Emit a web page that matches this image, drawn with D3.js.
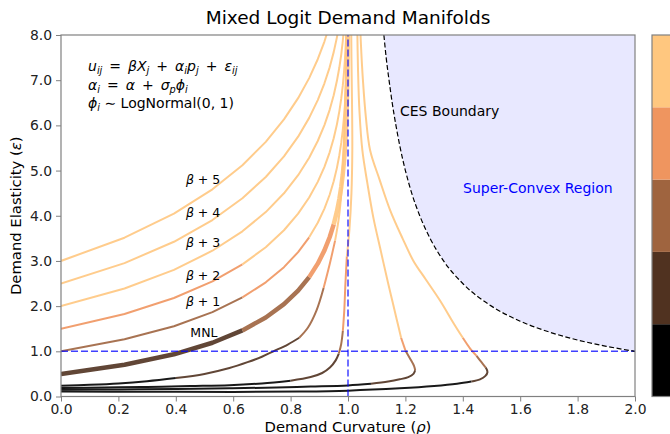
<!DOCTYPE html>
<html>
<head>
<meta charset="utf-8">
<script src="https://cdn.jsdelivr.net/npm/d3@7"></script>
<style>
body { margin: 0; background: #fff; }
svg { display: block; font-family: "DejaVu Sans", sans-serif; }
</style>
</head>
<body>
<svg id="chart" width="670" height="434"></svg>
<script>
// ---- data ----
// MNL curves: curvature at markups of 0.25 over the intercept (shared by every MNL curve)
var markup = [0, 0.25, 0.5, 0.75, 1, 1.25, 1.5, 1.75, 2, 2.25, 2.5, 2.75, 3, 3.25, 3.5,
	3.75, 4, 4.25, 4.5, 4.75, 5, 5.25, 5.5, 5.75, 6, 6.25, 6.5, 6.75, 7, 7.25];
var mnlRho = [0, 0.2212, 0.3935, 0.5276, 0.6321, 0.7135, 0.7769, 0.8262, 0.8647, 0.8946, 0.9179,
	0.9361, 0.9502, 0.9612, 0.9698, 0.9765, 0.9817, 0.9857, 0.9889, 0.9913, 0.9933, 0.9948,
	0.9959, 0.9968, 0.9975, 0.9981, 0.9985, 0.9988, 0.9991, 0.9993];
var epsMNL = [0.5, 0.703, 0.934, 1.189, 1.462, 1.749, 2.044, 2.343, 2.642, 2.94, 3.234, 3.525,
	3.81, 4.091, 4.368, 4.641, 4.91, 5.176, 5.44, 5.701, 5.96, 6.218, 6.473, 6.728, 6.983,
	7.236, 7.489, 7.741, 7.993, 8.244];
var epsB1 = [1.0, 1.265, 1.556, 1.868, 2.193, 2.526, 2.862, 3.195, 3.523, 3.845, 4.158, 4.465,
	4.763, 5.054, 5.339, 5.618, 5.892, 6.162, 6.429, 6.692, 6.953, 7.212, 7.469, 7.725, 7.98, 8.234];
var epsB2 = [1.5, 1.827, 2.179, 2.547, 2.924, 3.304, 3.679, 4.047, 4.404, 4.75, 5.083, 5.404,
	5.716, 6.017, 6.31, 6.595, 6.874, 7.148, 7.418, 7.683, 7.946, 8.207];
var epsB3 = [2.0, 2.389, 2.801, 3.226, 3.656, 4.081, 4.497, 4.898, 5.285, 5.654, 6.007, 6.344,
	6.668, 6.98, 7.28, 7.572, 7.856, 8.134];
var epsB4 = [2.5, 2.952, 3.424, 3.905, 4.387, 4.858, 5.314, 5.75, 6.166, 6.559, 6.931, 7.284,
	7.621, 7.942, 8.251];
var epsB5 = [3.0, 3.514, 4.046, 4.585, 5.118, 5.635, 6.132, 6.602, 7.046, 7.464, 7.855, 8.224];
var mnlIntercepts = [1, 2, 3, 4, 5, 6];
var mnlLabels = ["MNL", "\u03b2 + 1", "\u03b2 + 2", "\u03b2 + 3", "\u03b2 + 4", "\u03b2 + 5"];

// mixed logit curves (rho, eps, price)
var c1Rho = [0, 0.1, 0.2, 0.3, 0.4, 0.5, 0.587, 0.65, 0.7, 0.74, 0.79, 0.83, 0.86, 0.89, 0.915,
	0.937, 0.955, 0.968, 0.978, 0.985, 0.99, 0.994, 0.997];
var c1Eps = [0.24, 0.26, 0.29, 0.34, 0.41, 0.5, 0.63, 0.76, 0.88, 1.0, 1.15, 1.3, 1.52, 1.9, 2.4,
	2.95, 3.45, 3.95, 4.6, 5.5, 6.5, 7.5, 8.4];
var c1Price = [0.3, 0.45, 0.6, 0.8, 1.0, 1.15, 1.3, 1.45, 1.6, 1.7, 1.85, 2.0, 2.25, 2.6, 3.0,
	3.4, 4.0, 4.5, 5.1, 5.9, 6.8, 7.7, 8.6];

var c2Rho = [0, 0.15, 0.3, 0.45, 0.587, 0.7, 0.8, 0.87, 0.91, 0.937, 0.957, 0.968, 0.976, 0.982,
	0.987, 0.991, 0.996, 1.005, 1.012, 1.015, 1.014, 1.012, 1.011];
var c2Eps = [0.19, 0.2, 0.21, 0.23, 0.25, 0.29, 0.35, 0.43, 0.52, 0.64, 0.8, 0.95, 1.15, 1.45,
	1.9, 2.5, 3.1, 3.7, 4.5, 5.45, 6.5, 7.5, 8.4];
var c2Price = [0.2, 0.35, 0.5, 0.65, 0.8, 0.9, 1.0, 1.25, 1.45, 1.65, 1.85, 2.0, 2.4, 3.0, 3.4,
	3.9, 4.3, 4.9, 5.6, 6.4, 7.3, 8.2, 9.0];

var l1Rho = [0, 0.2, 0.4, 0.587, 0.75, 0.87, 1.0, 1.08, 1.14, 1.18, 1.21, 1.228, 1.234, 1.23,
	1.218, 1.2, 1.185, 1.17, 1.155, 1.14, 1.115, 1.088, 1.068, 1.05, 1.04, 1.035, 1.032];
var l1Eps = [0.15, 0.155, 0.165, 0.18, 0.2, 0.22, 0.245, 0.28, 0.33, 0.38, 0.43, 0.5, 0.58, 0.68,
	0.82, 1.02, 1.3, 1.7, 2.1, 2.5, 3.2, 3.97, 4.7, 5.45, 6.3, 7.2, 8.3];
var l1Price = [0.15, 0.3, 0.45, 0.6, 0.7, 0.78, 0.85, 1.0, 1.2, 1.4, 1.6, 1.8, 2.0, 2.4, 2.8,
	3.4, 4.0, 4.6, 5.1, 5.6, 6.3, 7.0, 7.7, 8.4, 9.1, 9.8, 10.6];

var l2Rho = [0, 0.3, 0.6, 0.83, 1.0, 1.18, 1.3, 1.38, 1.43, 1.46, 1.478, 1.486, 1.48, 1.465,
	1.448, 1.427, 1.4, 1.37, 1.32, 1.27, 1.228, 1.19, 1.147, 1.11, 1.077, 1.062, 1.052, 1.045, 1.042];
var l2Eps = [0.11, 0.105, 0.1, 0.11, 0.13, 0.18, 0.23, 0.28, 0.33, 0.38, 0.45, 0.54, 0.64, 0.76,
	0.9, 1.05, 1.3, 1.6, 2.13, 2.6, 3.0, 3.5, 4.12, 4.8, 5.45, 6.2, 7.0, 7.8, 8.3];
var l2Price = [0.1, 0.25, 0.4, 0.55, 0.65, 0.75, 0.82, 0.9, 1.05, 1.3, 1.6, 1.9, 2.2, 2.7, 3.1,
	3.6, 4.1, 4.6, 5.2, 5.8, 6.3, 6.9, 7.6, 8.3, 9.0, 9.7, 10.4, 11.1, 11.5];

// CES boundary
var cesRho = [1.125, 1.133, 1.143, 1.154, 1.167, 1.182, 1.2, 1.222, 1.25, 1.286, 1.333, 1.4,
	1.5, 1.6, 1.7, 1.8, 1.9, 2.0];
var cesEps = [8, 7.5, 7, 6.5, 6, 5.5, 5, 4.5, 4, 3.5, 3, 2.5, 2, 1.667, 1.429, 1.25, 1.111, 1.0];

// price bins of the colour bar
var priceBreaks = [1, 2, 3, 4];
var priceColors = ["#000000", "#503220", "#9f643f", "#ef955f", "#ffc77f"];

var xTicks = [0, 0.2, 0.4, 0.6, 0.8, 1.0, 1.2, 1.4, 1.6, 1.8, 2.0];
var yTicks = [0, 1, 2, 3, 4, 5, 6, 7, 8];

// ---- layout ----
var svg = d3.select("#chart");
var pLeft = 61, pRight = 635, pTop = 35, pBottom = 396.5;

var x = d3.scaleLinear().domain([0, 2]).range([pLeft, pRight]);
var y = d3.scaleLinear().domain([0, 8]).range([pBottom, pTop]);
var priceColor = d3.scaleThreshold().domain(priceBreaks).range(priceColors);

svg.append("defs").append("clipPath")
	.attr("id", "clip")
	.append("rect")
	.attr("x", pLeft).attr("y", pTop)
	.attr("width", pRight - pLeft).attr("height", pBottom - pTop);

var plot = svg.append("g").attr("clip-path", "url(#clip)");

//super-convex region
var cesPts = cesRho.map(function(r, i) { return [r, cesEps[i]]; });
var regionPts = cesPts.concat([[2, 8], [1.125, 8]]);
plot.append("path")
	.attr("d", d3.line().x(function(d) { return x(d[0]); }).y(function(d) { return y(d[1]); })
		.curve(d3.curveLinear)(regionPts))
	.attr("fill", "rgba(0,0,255,0.09)");

//curves are split into runs of one colour
function drawCurve(pts, width, smooth) {
	var runs = [];
	for (var i = 0; i < pts.length - 1; i++) {
		var c = priceColor(pts[i].p);
		if (!runs.length || runs[runs.length - 1].color !== c) {
			runs.push({color: c, pts: [pts[i]]});
		}
		runs[runs.length - 1].pts.push(pts[i + 1]);
	}
	var line = d3.line()
		.x(function(d) { return x(d.r); })
		.y(function(d) { return y(d.e); })
		.curve(smooth ? d3.curveCatmullRom : d3.curveLinear);
	runs.forEach(function(run) {
		plot.append("path")
			.attr("d", line(run.pts))
			.attr("fill", "none")
			.attr("stroke", run.color)
			.attr("stroke-width", width)
			.attr("stroke-linejoin", "round")
			.attr("stroke-opacity", 0.9);
	});
}

var mixed = [
	[c1Rho, c1Eps, c1Price],
	[c2Rho, c2Eps, c2Price],
	[l1Rho, l1Eps, l1Price],
	[l2Rho, l2Eps, l2Price]
];
mixed.forEach(function(m) {
	drawCurve(m[0].map(function(r, i) { return {r: r, e: m[1][i], p: m[2][i]}; }), 2, true);
});

var mnlEps = [epsMNL, epsB1, epsB2, epsB3, epsB4, epsB5];
for (var k = mnlEps.length - 1; k >= 0; k--) {
	var pts = mnlEps[k].map(function(e, i) {
		return {r: mnlRho[i], e: e, p: mnlIntercepts[k] + markup[i]};
	});
	drawCurve(pts, k === 0 ? 4.5 : 2, false);
}

//reference lines
plot.append("line")
	.attr("x1", x(0)).attr("x2", x(2)).attr("y1", y(1)).attr("y2", y(1))
	.attr("stroke", "#0000ff").attr("stroke-opacity", 0.75)
	.attr("stroke-width", 1.5).attr("stroke-dasharray", "7,3");
plot.append("line")
	.attr("x1", x(1)).attr("x2", x(1)).attr("y1", y(0)).attr("y2", y(8))
	.attr("stroke", "#0000ff").attr("stroke-opacity", 0.75)
	.attr("stroke-width", 1.5).attr("stroke-dasharray", "7,3");

plot.append("path")
	.attr("d", d3.line().x(function(d) { return x(d[0]); }).y(function(d) { return y(d[1]); })
		.curve(d3.curveMonotoneX)(cesPts))
	.attr("fill", "none")
	.attr("stroke", "#000")
	.attr("stroke-width", 1.2)
	.attr("stroke-dasharray", "5,2.5");

//axes
var gx = svg.append("g")
	.attr("transform", "translate(0," + pBottom + ")")
	.call(d3.axisBottom(x).tickValues(xTicks).tickFormat(d3.format(".1f")).tickSize(5).tickPadding(3));
var gy = svg.append("g")
	.attr("transform", "translate(" + pLeft + ",0)")
	.call(d3.axisLeft(y).tickValues(yTicks).tickFormat(d3.format(".1f")).tickSize(5).tickPadding(4));
[gx, gy].forEach(function(g) {
	g.select(".domain").remove();
	g.selectAll(".tick line").attr("stroke", "#808080");
	g.selectAll(".tick text")
		.attr("fill", "#222")
		.style("font-size", "13.9px")
		.style("font-family", "DejaVu Sans");
});

svg.append("rect")
	.attr("x", pLeft).attr("y", pTop)
	.attr("width", pRight - pLeft).attr("height", pBottom - pTop)
	.attr("fill", "none").attr("stroke", "#808080").attr("stroke-width", 1.2);

//titles
svg.append("text")
	.attr("x", (pLeft + pRight) / 2).attr("y", 24)
	.attr("text-anchor", "middle")
	.style("font-size", "18.5px")
	.text("Mixed Logit Demand Manifolds");

var xl = svg.append("text")
	.attr("x", (pLeft + pRight) / 2).attr("y", 432)
	.attr("text-anchor", "middle")
	.style("font-size", "14.8px");
xl.append("tspan").text("Demand Curvature (");
xl.append("tspan").style("font-style", "italic").text("\u03c1");
xl.append("tspan").text(")");

var yl = svg.append("text")
	.attr("transform", "translate(21," + (pTop + pBottom) / 2 + ") rotate(-90)")
	.attr("text-anchor", "middle")
	.style("font-size", "14.8px");
yl.append("tspan").text("Demand Elasticity (");
yl.append("tspan").style("font-style", "italic").text("\u03b5");
yl.append("tspan").text(")");

//model equations, parts are [text, style]: i italic, n normal, s subscript
function mathLine(px, py, parts, size) {
	var t = svg.append("text").attr("x", px).attr("y", py).style("font-size", size + "px");
	var shifted = false;
	parts.forEach(function(p) {
		var ts = t.append("tspan").text(p[0]);
		if (p[1] === "s") {
			ts.style("font-size", (size * 0.7) + "px").style("font-style", "italic");
			if (!shifted) { ts.attr("dy", size * 0.22); shifted = true; }
		} else {
			if (shifted) { ts.attr("dy", -size * 0.22); shifted = false; }
			if (p[1] === "i") ts.style("font-style", "italic");
		}
	});
	return t;
}

// en spaces around operators, like mathtext
var eq = "\u2002=\u2002", plus = "\u2002+\u2002";
mathLine(88, 71, [["u", "i"], ["ij", "s"], [eq, "n"], ["\u03b2X", "i"], ["j", "s"], [plus, "n"],
	["\u03b1", "i"], ["i", "s"], ["p", "i"], ["j", "s"], [plus, "n"], ["\u03b5", "i"], ["ij", "s"]], 14);
mathLine(88, 89.5, [["\u03b1", "i"], ["i", "s"], [eq, "n"], ["\u03b1", "i"], [plus, "n"],
	["\u03c3", "i"], ["p", "s"], ["\u03d5", "i"], ["i", "s"]], 14);
mathLine(88, 107.5, [["\u03d5", "i"], ["i", "s"], [" \u223c LogNormal(0, 1)", "n"]], 14);

//curve labels (data coordinates)
var labelRho = [0.498, 0.495, 0.495, 0.495, 0.495, 0.495];
var labelEps = [1.41, 2.09, 2.67, 3.40, 4.08, 4.79];
mnlLabels.forEach(function(lab, i) {
	var t = svg.append("text")
		.attr("x", x(labelRho[i])).attr("y", y(labelEps[i]))
		.attr("dy", "0.35em")
		.attr("text-anchor", "middle")
		.style("font-size", "12.5px");
	if (i === 0) {
		t.text(lab);
	} else {
		t.append("tspan").style("font-style", "italic").text("\u03b2");
		t.append("tspan").text(" + " + i);
	}
});

svg.append("text")
	.attr("x", 400).attr("y", 116)
	.style("font-size", "14px")
	.text("CES Boundary");
svg.append("text")
	.attr("x", 463).attr("y", 193)
	.style("font-size", "14px")
	.attr("fill", "#0000ff")
	.text("Super-Convex Region");

//colour bar
var cb = d3.scaleLinear().domain([0, priceColors.length]).range([pBottom, pTop]);
priceColors.forEach(function(c, i) {
	svg.append("rect")
		.attr("x", 652).attr("y", cb(i + 1))
		.attr("width", 22).attr("height", cb(i) - cb(i + 1))
		.attr("fill", c);
});
svg.append("rect")
	.attr("x", 652).attr("y", pTop)
	.attr("width", 22).attr("height", pBottom - pTop)
	.attr("fill", "none").attr("stroke", "#808080").attr("stroke-width", 1.2);
</script>
</body>
</html>
